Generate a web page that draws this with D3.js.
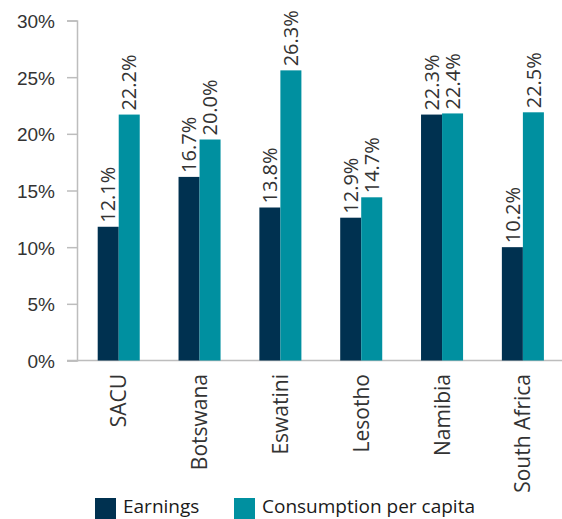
<!DOCTYPE html>
<html>
<head>
<meta charset="utf-8">
<script src="https://cdn.jsdelivr.net/npm/d3@7/dist/d3.min.js"></script>
<style>
  html, body { margin: 0; padding: 0; background: #fff; }
  svg { display: block; font-family: "Open Sans", "Noto Sans", sans-serif; }
</style>
</head>
<body>
<svg id="chart" width="562" height="519"></svg>
<script>
const categories = ["SACU", "Botswana", "Eswatini", "Lesotho", "Namibia", "South Africa"];
const seriesNames = ["Earnings", "Consumption per capita"];
const earnings = [11.8, 16.2, 13.5, 12.6, 21.7, 10.0];
const consumption = [21.7, 19.5, 25.6, 14.4, 21.8, 21.9];
const earningsLabels = ["12.1%", "16.7%", "13.8%", "12.9%", "22.3%", "10.2%"];
const consumptionLabels = ["22.2%", "20.0%", "26.3%", "14.7%", "22.4%", "22.5%"];
const yTicks = [0, 5, 10, 15, 20, 25, 30];
const colors = ["#003150", "#0090a0"];

(function () {
const svg = d3.select("#chart");
const mLeft = 77, mRight = 562, mTop = 20.5, mBottom = 360.5;

const x = d3.scaleBand().domain(categories).range([mLeft + 1.3, mRight + 1.3]).paddingInner(0.48).paddingOuter(0.24);
const xs = d3.scaleBand().domain(seriesNames).range([0, x.bandwidth()]);
const y = d3.scaleLinear().domain([0, 30]).range([mBottom, mTop]);

// y axis
const yAxis = d3.axisLeft(y).tickValues(yTicks).tickSize(10).tickFormat(d => d + "%").tickPadding(12);
const gy = svg.append("g").attr("transform", `translate(${mLeft},0)`).call(yAxis);
gy.select(".domain").attr("stroke", "#bdbdbd").attr("stroke-width", 1.5);
gy.selectAll(".tick line").attr("stroke", "#bdbdbd").attr("stroke-width", 1.5);
gy.selectAll(".tick text").attr("fill", "#333").style("font-size", "19px").attr("dy", "0.36em");

// x baseline
svg.append("line").attr("x1", mLeft - 10).attr("x2", mRight).attr("y1", y(0)).attr("y2", y(0))
  .attr("stroke", "#bdbdbd").attr("stroke-width", 1.5);

const series = [
  { name: seriesNames[0], values: earnings, labels: earningsLabels, color: colors[0] },
  { name: seriesNames[1], values: consumption, labels: consumptionLabels, color: colors[1] }
];

series.forEach(s => {
  const g = svg.append("g");
  g.selectAll("rect").data(categories).join("rect")
    .attr("x", (c) => x(c) + xs(s.name))
    .attr("width", xs.bandwidth())
    .attr("y", (c, i) => y(s.values[i]))
    .attr("height", (c, i) => y(0) - y(s.values[i]))
    .attr("fill", s.color);
  g.selectAll("text").data(categories).join("text")
    .attr("transform", (c, i) => `translate(${x(c) + xs(s.name) + xs.bandwidth() / 2},${y(s.values[i]) - 4}) rotate(-90)`)
    .attr("text-anchor", "start")
    .attr("dy", "0.36em")
    .attr("fill", "#333")
    .style("font-size", "20px")
    .text((c, i) => s.labels[i]);
});

// category labels
svg.append("g").selectAll("text").data(categories).join("text")
  .attr("transform", c => `translate(${x(c) + x.bandwidth() / 2},374) rotate(-90)`)
  .attr("text-anchor", "end")
  .attr("dy", "0.36em")
  .attr("fill", "#333")
  .style("font-size", "21px")
  .text(c => c);

// legend
const legendX = [95, 234];
const lg = svg.append("g");
seriesNames.forEach((n, i) => {
  lg.append("rect").attr("x", legendX[i]).attr("y", 498).attr("width", 21).attr("height", 21).attr("fill", colors[i]);
  lg.append("text").attr("x", legendX[i] + 28).attr("y", 513).attr("fill", "#1a1a1a")
    .style("font-size", "19px").text(n);
});
})();
</script>
</body>
</html>
